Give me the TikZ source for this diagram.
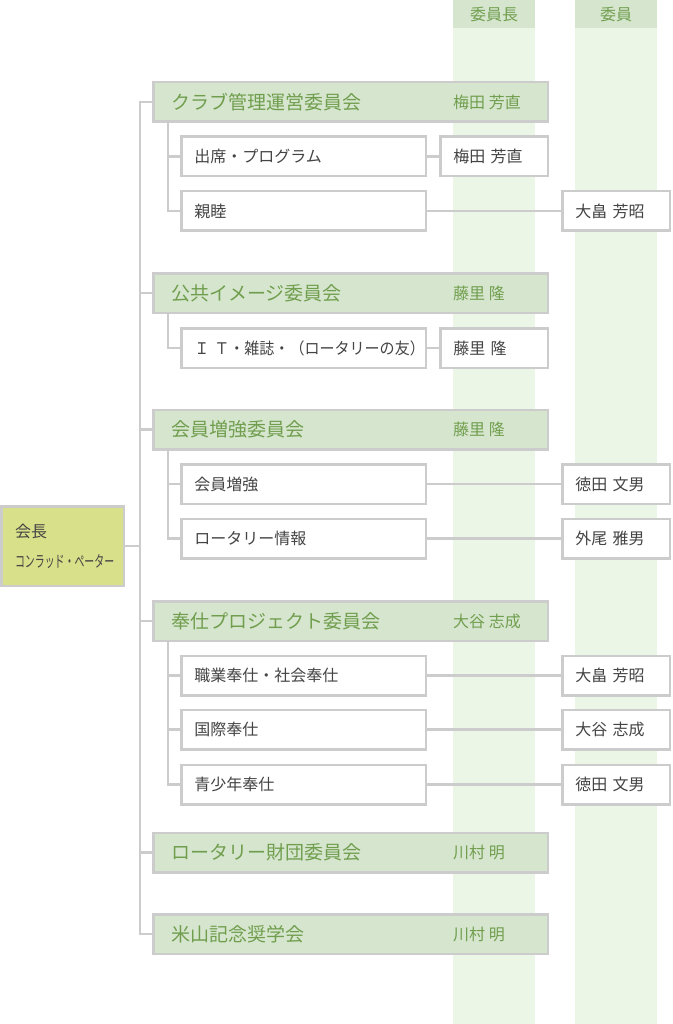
\documentclass[tikz,border=0pt]{standalone}
\usepackage{fontspec}
\setmainfont{Noto Sans CJK JP}
\usepackage{graphicx}
\definecolor{boxgreen}{RGB}{214,230,206}
\definecolor{colgreen}{RGB}{235,246,230}
\definecolor{txtgreen}{RGB}{112,158,78}
\definecolor{linegray}{RGB}{204,204,204}
\definecolor{presfill}{RGB}{217,224,138}
\definecolor{txtgray}{RGB}{68,68,68}
\tikzset{
  conn/.style={draw=linegray,line width=2.5pt},
  cmte/.style={draw=linegray,line width=2.5pt,fill=boxgreen,text=txtgreen,
    font=\fontsize{19}{22}\selectfont,text width=358.5pt,align=left,
    inner xsep=18pt,inner ysep=0pt,minimum height=39.5pt},
  subbox/.style={draw=linegray,line width=2.5pt,fill=white,text=txtgray,
    font=\fontsize{16}{19}\selectfont,text width=218.5pt,align=left,
    inner xsep=13pt,inner ysep=0pt,minimum height=39.5pt},
  namebox/.style={subbox,text width=81.5pt},
  chairname/.style={anchor=west,inner sep=0pt,text=txtgreen,font=\fontsize{16}{19}\selectfont},
  colhead/.style={inner sep=0pt,text=txtgreen,font=\fontsize{16}{19}\selectfont},
  pres/.style={draw=linegray,line width=2.5pt,fill=presfill,text=txtgray,
    font=\fontsize{16}{30}\selectfont,text width=95pt,align=left,
    inner xsep=13.75pt,inner ysep=0pt,minimum height=79.5pt}
}
\begin{document}
\begin{tikzpicture}[x=1pt,y=-1pt]
  \useasboundingbox (0,0) rectangle (672,1024);
  % columns
  \fill[colgreen] (453,0) rectangle (535,1024);
  \fill[colgreen] (575,0) rectangle (657,1024);
  \fill[boxgreen] (453,0) rectangle (535,28);
  \fill[boxgreen] (575,0) rectangle (657,28);
  \node[colhead] (hchair) at (494,14) {委員長};
  \node[colhead] (hmember) at (616,14) {委員};

  \coordinate (trunk) at (140,0);
  \coordinate (branch) at (168,0);

  \node[pres] (pres) at (62.5,546) {会長\\\scalebox{0.62}[1]{コンラッド・ペーター}};

  \node[cmte] (c1) at (350.5,102) {クラブ管理運営委員会};
  \node[chairname] (c1n) at (453,102) {梅田 芳直};
  \node[subbox] (s11) at (303.5,156.5) {出席・プログラム};
  \node[namebox] (s11n) at (494,156.5) {梅田 芳直};
  \node[subbox] (s12) at (303.5,211) {親睦};
  \node[namebox] (s12n) at (616,211) {大畠 芳昭};

  \node[cmte] (c2) at (350.5,293) {公共イメージ委員会};
  \node[chairname] (c2n) at (453,293) {藤里 隆};
  \node[subbox] (s21) at (303.5,348) {\scalebox{0.94}[1]{Ｉ Ｔ・雑誌・（ロータリーの友）}};
  \node[namebox] (s21n) at (494,348) {藤里 隆};

  \node[cmte] (c3) at (350.5,429.5) {会員増強委員会};
  \node[chairname] (c3n) at (453,429.5) {藤里 隆};
  \node[subbox] (s31) at (303.5,484) {会員増強};
  \node[namebox] (s31n) at (616,484) {徳田 文男};
  \node[subbox] (s32) at (303.5,538.5) {ロータリー情報};
  \node[namebox] (s32n) at (616,538.5) {外尾 雅男};

  \node[cmte] (c4) at (350.5,621) {奉仕プロジェクト委員会};
  \node[chairname] (c4n) at (453,621) {大谷 志成};
  \node[subbox] (s41) at (303.5,675.5) {職業奉仕・社会奉仕};
  \node[namebox] (s41n) at (616,675.5) {大畠 芳昭};
  \node[subbox] (s42) at (303.5,729.5) {国際奉仕};
  \node[namebox] (s42n) at (616,729.5) {大谷 志成};
  \node[subbox] (s43) at (303.5,784.5) {青少年奉仕};
  \node[namebox] (s43n) at (616,784.5) {徳田 文男};

  \node[cmte] (c5) at (350.5,852.5) {ロータリー財団委員会};
  \node[chairname] (c5n) at (453,852.5) {川村 明};

  \node[cmte] (c6) at (350.5,934) {米山記念奨学会};
  \node[chairname] (c6n) at (453,934) {川村 明};

  % trunk
  \draw[conn] (c1.west) -| (trunk |- c6.west) -- (c6.west);
  \draw[conn] (pres.east) -- (trunk |- pres.east);
  \draw[conn] (c2.west) -- (trunk |- c2.west);
  \draw[conn] (c3.west) -- (trunk |- c3.west);
  \draw[conn] (c4.west) -- (trunk |- c4.west);
  \draw[conn] (c5.west) -- (trunk |- c5.west);

  % branches
  \draw[conn] (branch |- c1.south) |- (s12.west);
  \draw[conn] (s11.west) -- (branch |- s11.west);
  \draw[conn] (branch |- c2.south) |- (s21.west);
  \draw[conn] (branch |- c3.south) |- (s32.west);
  \draw[conn] (s31.west) -- (branch |- s31.west);
  \draw[conn] (branch |- c4.south) |- (s43.west);
  \draw[conn] (s41.west) -- (branch |- s41.west);
  \draw[conn] (s42.west) -- (branch |- s42.west);

  % names
  \draw[conn] (s11.east) -- (s11n.west);
  \draw[conn] (s12.east) -- (s12n.west);
  \draw[conn] (s21.east) -- (s21n.west);
  \draw[conn] (s31.east) -- (s31n.west);
  \draw[conn] (s32.east) -- (s32n.west);
  \draw[conn] (s41.east) -- (s41n.west);
  \draw[conn] (s42.east) -- (s42n.west);
  \draw[conn] (s43.east) -- (s43n.west);
\end{tikzpicture}
\end{document}
